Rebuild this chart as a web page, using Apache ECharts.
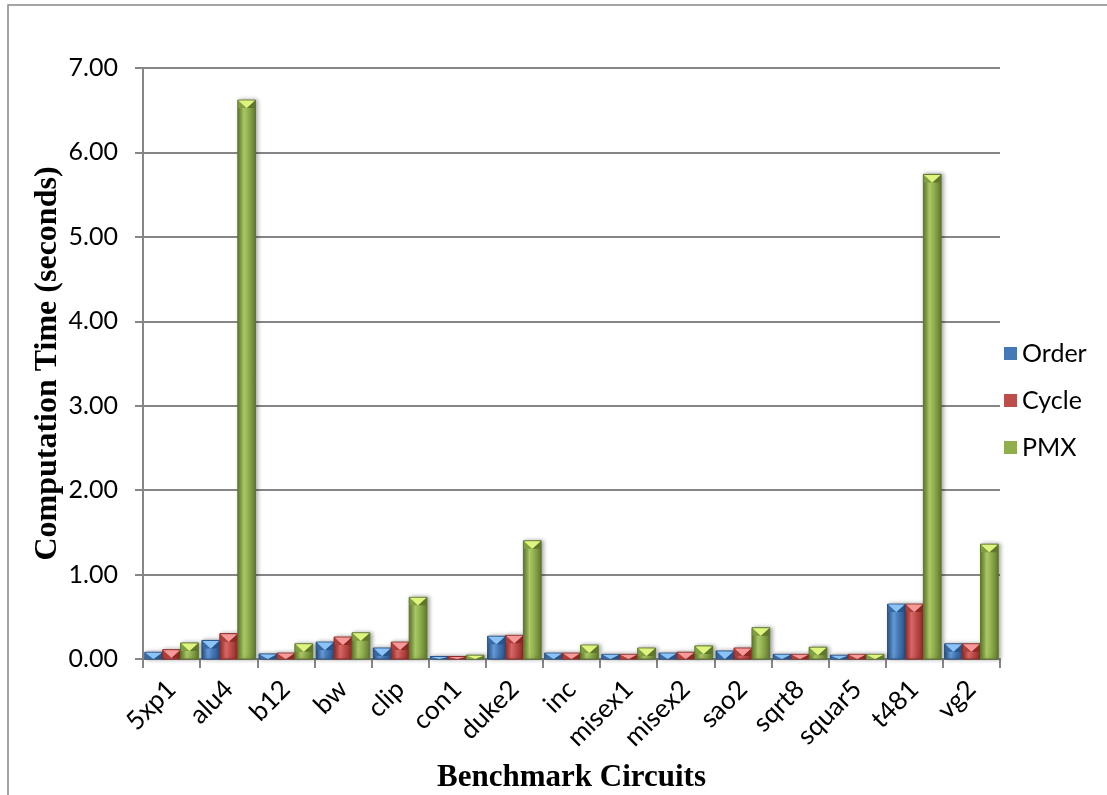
<!DOCTYPE html>
<html>
<head>
<meta charset="utf-8">
<title>Computation Time per Benchmark Circuit</title>
<script src="https://cdn.jsdelivr.net/npm/echarts@6/dist/echarts.min.js"></script>
<style>
  html, body { margin: 0; padding: 0; background: #ffffff; }
  #chart { width: 1107px; height: 795px; }
</style>
</head>
<body>
<div id="chart"></div>
<script>
// Benchmark circuits along the x axis
const circuits = ['5xp1', 'alu4', 'b12', 'bw', 'clip', 'con1', 'duke2', 'inc',
  'misex1', 'misex2', 'sao2', 'sqrt8', 'squar5', 't481', 'vg2'];

// Computation time in seconds for each method
const orderTimes = [0.08, 0.22, 0.06, 0.20, 0.13, 0.03, 0.27, 0.07, 0.055, 0.07, 0.095, 0.055, 0.045, 0.65, 0.18];
const cycleTimes = [0.11, 0.30, 0.07, 0.26, 0.20, 0.03, 0.28, 0.07, 0.055, 0.08, 0.13, 0.055, 0.055, 0.65, 0.18];
const pmxTimes   = [0.19, 6.62, 0.18, 0.31, 0.73, 0.045, 1.40, 0.165, 0.13, 0.155, 0.37, 0.14, 0.055, 5.74, 1.36];

const seriesNames = ['Order', 'Cycle', 'PMX'];
const yTicks = [0, 1, 2, 3, 4, 5, 6, 7];

// Bevelled bar palette: edge, body, highlight, top facet
const palettes = [
  { edge: '#285589', body: '#4578b6', light: '#669ad8', tip: '#8cc3f7', flank: '#3a6aa6' },
  { edge: '#8f2926', body: '#bd4d4a', light: '#da6966', tip: '#f59a98', flank: '#ab3f3c' },
  { edge: '#5f772c', body: '#8fae4e', light: '#acca66', tip: '#def47f', flank: '#809e42' }
];

const chart = echarts.init(document.getElementById('chart'), null, { renderer: 'canvas' });

function bevelBar(seriesIndex) {
  const pal = palettes[seriesIndex];
  return function (params, api) {
    const idx = api.value(0);
    const val = api.value(1);
    const base = api.coord([idx, 0]);
    const top = api.coord([idx, val]);
    const band = api.size([1, 0])[0];
    const bw = band * 0.31;
    const gap = band * 0.004;
    const groupW = bw * 3 + gap * 2;
    const x = base[0] - groupW / 2 + seriesIndex * (bw + gap);
    const y = top[1];
    const h = base[1] - top[1];
    const d = Math.min(8, h);
    const grad = new echarts.graphic.LinearGradient(0, 0, 1, 0, [
      { offset: 0, color: pal.edge },
      { offset: 0.35, color: pal.light },
      { offset: 0.6, color: pal.body },
      { offset: 1, color: pal.edge }
    ]);
    return {
      type: 'group',
      children: [
        {
          type: 'rect',
          shape: { x: x, y: y, width: bw, height: h },
          style: { fill: grad, stroke: pal.edge, lineWidth: 1,
            shadowBlur: 4, shadowColor: 'rgba(0,0,0,0.35)', shadowOffsetX: 2 }
        },
        {
          type: 'polygon',
          shape: { points: [[x + 0.5, y + 0.5], [x + bw / 2, y + d], [x + 0.5, y + d]] },
          style: { fill: pal.flank }
        },
        {
          type: 'polygon',
          shape: { points: [[x + bw - 0.5, y + 0.5], [x + bw / 2, y + d], [x + bw - 0.5, y + d]] },
          style: { fill: pal.edge }
        },
        {
          type: 'polygon',
          shape: { points: [[x + 0.5, y + 0.5], [x + bw - 0.5, y + 0.5], [x + bw / 2, y + d]] },
          style: { fill: pal.tip }
        }
      ]
    };
  };
}

const allTimes = [orderTimes, cycleTimes, pmxTimes];

const option = {
  animation: false,
  backgroundColor: '#ffffff',
  graphic: [
    {
      type: 'rect',
      shape: { x: 8, y: 5, width: 1120, height: 820 },
      style: { fill: 'none', stroke: '#868686', lineWidth: 1.5 },
      silent: true
    }
  ],
  grid: { left: 143, right: 107, top: 68, bottom: 136, outerBoundsMode: 'none' },
  legend: {
    orient: 'vertical',
    left: 999,
    top: 336,
    itemWidth: 13,
    itemHeight: 13,
    itemGap: 22,
    icon: 'rect',
    textStyle: { fontFamily: 'Lato', fontSize: 25, color: '#000000', padding: [0, 0, 0, 0] },
    data: seriesNames
  },
  xAxis: {
    type: 'category',
    data: circuits,
    name: 'Benchmark Circuits',
    nameLocation: 'middle',
    nameGap: 103,
    nameMoveOverlap: false,
    nameTextStyle: { fontFamily: 'Liberation Serif', fontWeight: 'bold', fontSize: 31, color: '#000000' },
    axisLine: { lineStyle: { color: '#868686', width: 2 } },
    axisTick: { show: true, length: 9, interval: 0, alignWithLabel: false, lineStyle: { color: '#868686', width: 2 } },
    axisLabel: { rotate: 45, interval: 0, margin: 26, fontFamily: 'Lato', fontSize: 26, color: '#000000' },
    splitLine: { show: false }
  },
  yAxis: {
    type: 'value',
    min: yTicks[0],
    max: yTicks[yTicks.length - 1],
    interval: 1,
    name: 'Computation Time (seconds)',
    nameLocation: 'middle',
    nameGap: 79,
    nameMoveOverlap: false,
    nameRotate: 90,
    nameTextStyle: { fontFamily: 'Liberation Serif', fontWeight: 'bold', fontSize: 32, color: '#000000' },
    axisLine: { show: true, lineStyle: { color: '#868686', width: 2 } },
    axisTick: { show: true, length: 8, lineStyle: { color: '#868686', width: 2 } },
    axisLabel: { margin: 25, fontFamily: 'Lato', fontSize: 25, color: '#000000',
      formatter: function (v) { return v.toFixed(2); } },
    splitLine: { show: true, lineStyle: { color: '#868686', width: 2 } }
  },
  series: seriesNames.map(function (name, si) {
    return {
      name: name,
      type: 'custom',
      renderItem: bevelBar(si),
      itemStyle: { color: palettes[si].body },
      encode: { x: 0, y: 1 },
      data: allTimes[si].map(function (v, i) { return [i, v]; }),
      z: 3
    };
  })
};

chart.setOption(option);
</script>
</body>
</html>
